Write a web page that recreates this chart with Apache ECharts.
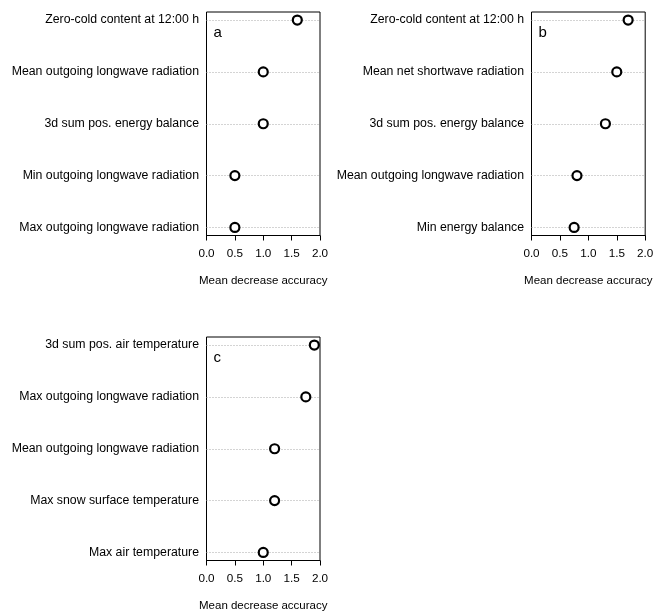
<!DOCTYPE html>
<html>
<head>
<meta charset="utf-8">
<style>
  html, body { margin: 0; padding: 0; background: #fff; }
  #chart { width: 663px; height: 613px; }
</style>
<script src="https://cdn.jsdelivr.net/npm/echarts@6/dist/echarts.min.js"></script>
</head>
<body>
<div id="chart"></div>
<script>
// Variable importance (mean decrease accuracy), one dot chart per panel.
const panelNames = ['a', 'b', 'c'];

const labelsA = [
  'Zero-cold content at 12:00 h',
  'Mean outgoing longwave radiation',
  '3d sum pos. energy balance',
  'Min outgoing longwave radiation',
  'Max outgoing longwave radiation'
];
const valuesA = [1.6, 1.0, 1.0, 0.5, 0.5];

const labelsB = [
  'Zero-cold content at 12:00 h',
  'Mean net shortwave radiation',
  '3d sum pos. energy balance',
  'Mean outgoing longwave radiation',
  'Min energy balance'
];
const valuesB = [1.7, 1.5, 1.3, 0.8, 0.75];

const labelsC = [
  '3d sum pos. air temperature',
  'Max outgoing longwave radiation',
  'Mean outgoing longwave radiation',
  'Max snow surface temperature',
  'Max air temperature'
];
const valuesC = [1.9, 1.75, 1.2, 1.2, 1.0];

const xTickValues = [0, 0.5, 1.0, 1.5, 2.0];
const xTitle = 'Mean decrease accuracy';

const FONT = '"Liberation Sans", Arial, Helvetica, sans-serif';

// panel frames (plot regions)
const frames = [
  { left: 206.5, top: 12, width: 113.5, height: 223.5 },
  { left: 531.5, top: 12, width: 113.7, height: 223.5 },
  { left: 206.5, top: 337, width: 113.5, height: 223.5 }
];

const panels = [
  { labels: labelsA, values: valuesA },
  { labels: labelsB, values: valuesB },
  { labels: labelsC, values: valuesC }
];

const grid = [], xAxis = [], yAxis = [], series = [], graphic = [];

panels.forEach((p, k) => {
  const f = frames[k];
  const rows = p.labels.map((_, i) => i + 1);
  grid.push({
    left: f.left, top: f.top, width: f.width, height: f.height,
    show: true, borderColor: '#000', borderWidth: 1, backgroundColor: 'transparent',
    containLabel: false
  });
  xAxis.push({
    gridIndex: k, type: 'value',
    min: xTickValues[0], max: xTickValues[xTickValues.length - 1],
    interval: xTickValues[1] - xTickValues[0],
    axisLine: { show: true, onZero: false, lineStyle: { color: '#000', width: 1 } },
    axisTick: { show: true, length: 5, lineStyle: { color: '#000', width: 1 } },
    axisLabel: {
      margin: 12, color: '#000', fontFamily: FONT, fontSize: 11.7,
      formatter: v => v.toFixed(1)
    },
    splitLine: { show: false },
    name: xTitle, nameLocation: 'middle', nameGap: 39,
    nameTextStyle: { color: '#000', fontFamily: FONT, fontSize: 11.5 }
  });
  yAxis.push({
    gridIndex: k, type: 'value', inverse: true,
    min: 1 - 0.155, max: rows.length + 0.155,
    axisLine: { show: false },
    axisTick: { show: false, customValues: rows },
    axisLabel: {
      customValues: rows, margin: 7.5, color: '#000',
      fontFamily: FONT, fontSize: 12.3,
      formatter: v => p.labels[Math.round(v) - 1] || ''
    },
    splitLine: { show: true, lineStyle: { color: '#a8a8a8', type: [1, 2], width: 1 } }
  });
  series.push({
    type: 'scatter', xAxisIndex: k, yAxisIndex: k,
    symbol: 'circle', symbolSize: 9,
    itemStyle: { color: '#fff', borderColor: '#000', borderWidth: 2.2, opacity: 1 },
    emphasis: { disabled: true },
    data: p.values.map((v, i) => [v, rows[i]]),
    z: 5
  });
  graphic.push({
    type: 'text', left: f.left + 7, top: f.top + 13,
    style: { text: panelNames[k], fill: '#000', font: '15px ' + FONT }
  });
});

const chart = echarts.init(document.getElementById('chart'), null, { renderer: 'canvas' });
chart.setOption({
  backgroundColor: '#fff',
  animation: false,
  grid, xAxis, yAxis, series, graphic
});
</script>
</body>
</html>
